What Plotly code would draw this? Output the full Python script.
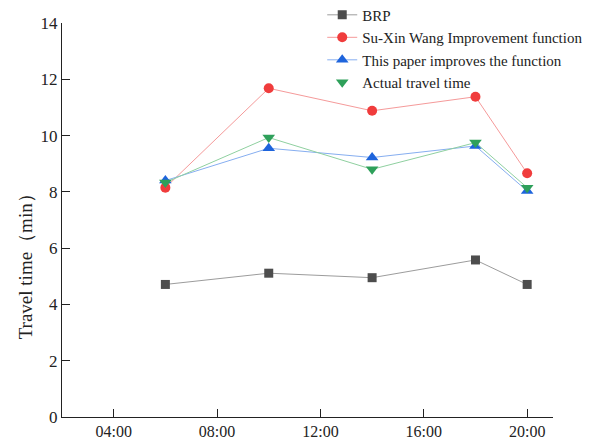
import plotly.graph_objects as go

times = ["06:00", "10:00", "14:00", "18:00", "20:00"]
tick_labels = ["04:00", "08:00", "12:00", "16:00", "20:00"]

brp = [4.71, 5.11, 4.95, 5.58, 4.71]
su_xin_wang = [8.15, 11.68, 10.88, 11.38, 8.66]
this_paper = [8.40, 9.55, 9.22, 9.63, 8.03]
actual = [8.33, 9.93, 8.80, 9.75, 8.15]

y_title = "Travel time（min）"

def to_hours(s):
    h, m = s.split(":")
    return int(h) + int(m) / 60.0

x = [to_hours(t) for t in times]
tickvals = [to_hours(t) for t in tick_labels]

FONT = "Liberation Serif"

fig = go.Figure()

fig.add_trace(go.Scatter(
    x=x, y=brp, name="BRP", mode="lines+markers",
    line=dict(color="#9c9c9c", width=1),
    marker=dict(symbol="square", size=9, color="#4d4d4d"),
))
fig.add_trace(go.Scatter(
    x=x, y=su_xin_wang, name="Su-Xin Wang Improvement function", mode="lines+markers",
    line=dict(color="#f59a9a", width=1),
    marker=dict(symbol="circle", size=10, color="#f03c3c"),
))
fig.add_trace(go.Scatter(
    x=x, y=this_paper, name="This paper improves the function", mode="lines+markers",
    line=dict(color="#86aef0", width=1),
    marker=dict(symbol="triangle-up", size=11, color="#1e64dc"),
))
# line for actual travel time (not shown in legend)
fig.add_trace(go.Scatter(
    x=x, y=actual, mode="lines", showlegend=False, hoverinfo="skip",
    line=dict(color="#8fd0a0", width=1),
))
fig.add_trace(go.Scatter(
    x=x, y=actual, name="Actual travel time", mode="markers",
    marker=dict(symbol="triangle-down", size=11, color="#2ea05a"),
))

fig.add_annotation(
    text=y_title, textangle=-90, xref="paper", yref="paper",
    x=-0.075, y=0.393, xanchor="center", yanchor="middle", showarrow=False,
    font=dict(family=FONT, size=19, color="#222"),
)

fig.update_layout(
    width=608, height=436,
    margin=dict(l=54, r=63, t=15, b=27, autoexpand=False),
    paper_bgcolor="white", plot_bgcolor="white",
    font=dict(family=FONT, size=16, color="#222"),
    showlegend=True,
    legend=dict(
        x=0.53, y=1.062, xanchor="left", yanchor="top",
        bgcolor="rgba(0,0,0,0)", font=dict(family=FONT, size=15, color="#222"),
        tracegroupgap=0, itemwidth=30,
    ),
    xaxis=dict(
        range=[2, 21], tickvals=tickvals, ticktext=tick_labels,
        showgrid=False, zeroline=False, showline=True, linecolor="#222", linewidth=1,
        ticks="inside", ticklen=8, tickcolor="#222",
        tickfont=dict(family=FONT, size=16, color="#222"),
        automargin=False,
    ),
    yaxis=dict(
        range=[0, 14], dtick=2, tick0=0,
        showgrid=False, zeroline=False, showline=True, linecolor="#222", linewidth=1,
        ticks="inside", ticklen=8, tickcolor="#222",
        tickfont=dict(family=FONT, size=17, color="#222"),
        automargin=False,
    ),
)

fig.write_html("out.html")
